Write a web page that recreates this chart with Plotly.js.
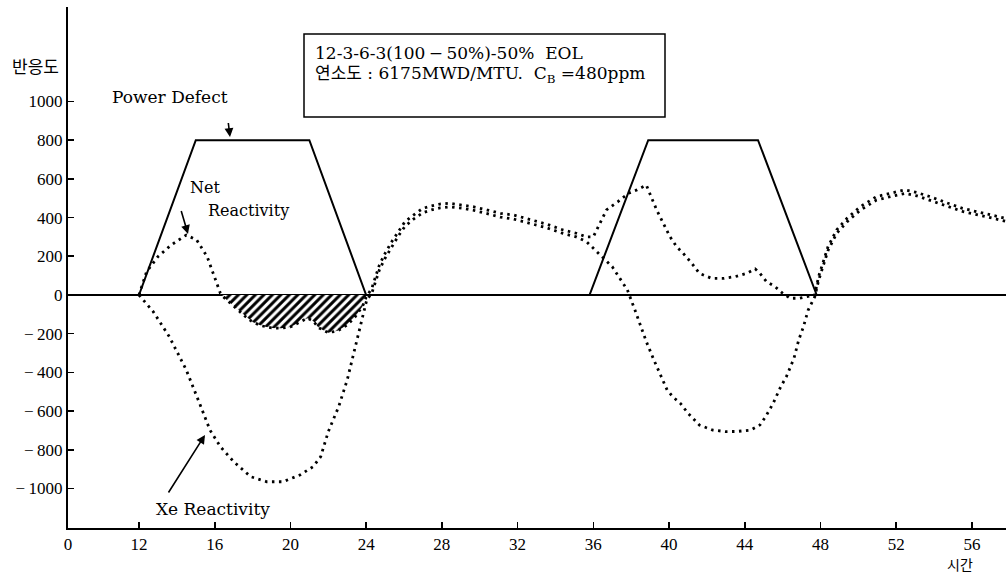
<!DOCTYPE html>
<html><head><meta charset="utf-8">
<script src="https://cdn.plot.ly/plotly-3.0.1.min.js"></script>
<style>html,body{margin:0;padding:0;background:#fff}#chart{width:1006px;height:573px}</style>
</head><body><div id="chart"></div>
<script>
// ---- data (hours, reactivity) ----
const pdHours  = [12, 15, 21, 24, 35.8, 38.9, 44.7, 47.8];
const pdValues = [0, 800, 800, 0, 0, 800, 800, 0];

const netHours = [12, 12.4, 13.0, 13.7, 14.5, 15.05, 15.6, 16.0, 16.3, 16.45, 16.8, 17.2, 17.6, 18.0, 18.5, 19.0, 19.5, 20.0, 20.5, 20.9, 21.2, 21.5, 22.0, 22.5, 23.0, 23.4, 23.8, 24.0,
  24.3, 24.5, 24.7, 25.0, 25.35, 25.7, 26.05, 26.5, 27.0, 27.45, 27.9, 28.4, 29.1, 29.65, 30.4, 31.1, 31.8, 32.65, 33.5, 34.4, 35.1, 35.65, 36.0,
  36.35, 36.7, 37.3, 37.85, 38.3, 38.8, 39.0, 39.35, 39.7, 40.05, 40.4, 40.75, 41.2, 41.6, 42.25, 42.9, 43.5, 44.1, 44.55, 44.8, 45.15, 45.6, 46.0, 46.4, 46.9, 47.35, 47.7,
  47.9, 48.1, 48.4, 48.85, 49.4, 50.1, 50.95, 51.85, 52.45, 53.1, 53.8, 54.65, 55.5, 56.4, 57.3, 57.8];
const netValues = [0, 120, 198, 258, 310, 284, 198, 95, 9, -9, -40, -75, -110, -140, -160, -170, -172, -165, -140, -120, -135, -170, -195, -185, -155, -115, -60, -12,
  35, 95, 155, 215, 275, 327, 379, 413, 448, 460, 470, 474, 465, 456, 439, 422, 413, 391, 367, 336, 319, 300, 300,
  370, 440, 482, 525, 543, 568, 520, 439, 370, 301, 250, 215, 164, 112, 86, 86, 95, 112, 135, 112, 69, 43, 9, -17, -17, -9, 0,
  95, 155, 250, 336, 396, 456, 508, 529, 543, 529, 508, 477, 448, 427, 408, 396];

const xeHours = [12, 12.75, 13.6, 14.5, 15.2, 15.75, 16.3, 17.0, 17.9, 18.75, 19.6, 20.5, 21.2, 21.6, 22.0, 22.55, 23.0, 23.3, 23.7, 23.85, 24.03,
  24.3, 24.5, 24.7, 25.0, 25.35, 25.7, 26.05, 26.5, 27.0, 27.45, 27.9, 28.4, 29.1, 29.65, 30.4, 31.1, 31.8, 32.65, 33.5, 34.4, 35.1, 35.65, 36.0,
  36.5, 37.0, 37.4, 37.8, 38.2, 38.5, 38.8, 39.2, 39.5, 39.9, 40.2, 40.6, 41.0, 41.6, 42.3, 43.0, 43.6, 44.3, 44.8, 45.1, 45.5, 45.9, 46.2, 46.6, 46.85, 47.1, 47.35, 47.7,
  47.9, 48.1, 48.4, 48.85, 49.4, 50.1, 50.95, 51.85, 52.45, 53.1, 53.8, 54.65, 55.5, 56.4, 57.3, 57.8];
const xeValues = [0, -86, -215, -388, -560, -698, -784, -861, -939, -965, -965, -930, -887, -835, -706, -577, -439, -319, -172, -112, -26,
  10, 70, 130, 190, 250, 305, 355, 392, 425, 440, 450, 455, 448, 438, 420, 402, 392, 372, 348, 318, 300, 275, 241,
  190, 146, 86, 26, -78, -164, -241, -336, -405, -491, -526, -560, -611, -672, -698, -706, -705, -698, -672, -629, -560, -474, -422, -327, -233, -164, -78, -9,
  75, 135, 230, 318, 378, 438, 490, 512, 525, 512, 490, 460, 432, 410, 392, 380];

const xTickVals = [8.25, 12, 16, 20, 24, 28, 32, 36, 40, 44, 48, 52, 56];
const xTickText = ['0', '12', '16', '20', '24', '28', '32', '36', '40', '44', '48', '52', '56'];
const yTickVals = [1000, 800, 600, 400, 200, 0, -200, -400, -600, -800, -1000];
const yTickText = ['1000', '800', '600', '400', '200', '0', '\u2212\u2009200', '\u2212\u2009400', '\u2212\u2009600', '\u2212\u2009800', '\u2212\u20091000'];

const boxLine1 = '12-3-6-3(100\u2009\u2212\u200950%)-50%  EOL';
const boxLine2 = '연소도 : 6175MWD/MTU.  C<sub>B</sub> =480ppm';

// ---- geometry helpers (pixel -> paper) ----
const L = 68, R = 1006, T = 7, B = 528;
const px = x => (x - L) / (R - L);
const py = y => (B - y) / (B - T);

// hatched negative part of net reactivity
const hatchX = [], hatchY = [];
netHours.forEach((h, i) => { if (h >= 16.3 && h <= 24.0) { hatchX.push(h); hatchY.push(netValues[i]); } });

const dotLine = {color: '#000', width: 2.8, dash: '2.5px,4.5px'};
const traces = [
  {x: hatchX, y: hatchY, mode: 'lines', line: {width: 0, color: '#000'}, fill: 'tozeroy',
   fillcolor: 'rgba(0,0,0,0)', fillpattern: {shape: '/', fgcolor: '#000', bgcolor: '#fff', size: 6, solidity: 0.5},
   hoverinfo: 'skip'},
  {x: pdHours, y: pdValues, mode: 'lines', line: {color: '#000', width: 2}},
  {x: xeHours, y: xeValues, mode: 'lines', line: dotLine},
  {x: netHours, y: netValues, mode: 'lines', line: dotLine}
];

const serif = 'DejaVu Serif, Noto Sans CJK KR, serif';
const tickFont = {family: 'Liberation Serif', size: 17, color: '#000'};
const txt = (s, x, y, size, extra) => Object.assign({text: s, xref: 'paper', yref: 'paper', x: px(x), y: py(y),
  xanchor: 'center', yanchor: 'middle',
  showarrow: false, font: {family: serif, size: size, color: '#000'}}, extra || {});
const arrow = (hx, hy, tx, ty) => ({text: ' ', xref: 'paper', yref: 'paper', x: px(hx), y: py(hy),
  ax: tx - hx, ay: ty - hy, showarrow: true, arrowhead: 2, arrowsize: 1.1, arrowwidth: 1.6, arrowcolor: '#000'});
const krFont = {family: 'Noto Sans CJK KR', size: 14, color: '#000'};

const layout = {
  width: 1006, height: 573,
  margin: {l: L, r: 1006 - R, t: T, b: 573 - B},
  paper_bgcolor: '#fff', plot_bgcolor: '#fff',
  font: tickFont,
  showlegend: false,
  xaxis: {range: [8.25, 57.8], tickvals: xTickVals, ticktext: xTickText, showgrid: false, zeroline: false,
    showline: true, linecolor: '#000', linewidth: 2, ticks: 'inside', ticklen: 6, tickwidth: 1.6, tickcolor: '#000',
    tickfont: tickFont, ticklabelstandoff: 0},
  yaxis: {range: [-1204, 1488], tickvals: yTickVals, ticktext: yTickText, showgrid: false,
    zeroline: true, zerolinecolor: '#000', zerolinewidth: 2,
    showline: true, linecolor: '#000', linewidth: 2, ticks: 'inside', ticklen: 6, tickwidth: 1.6, tickcolor: '#000',
    tickfont: tickFont},
  shapes: [
    {type: 'rect', xref: 'paper', yref: 'paper', x0: px(304), x1: px(665), y0: py(117), y1: py(34),
     line: {color: '#000', width: 1.5}, fillcolor: 'rgba(0,0,0,0)'}
  ],
  annotations: [
    txt(boxLine1, 313, 53, 17, {xanchor: 'left'}),
    txt(boxLine2, 313, 74, 17, {xanchor: 'left'}),
    txt('Power Defect', 170, 97, 17),
    txt('Net', 205, 187, 16),
    txt('Reactivity', 248, 210, 16),
    txt('Xe Reactivity', 213, 509, 17),
    txt('반응도', 35, 65, 17, {font: Object.assign({}, krFont, {size: 17})}),
    txt('시간', 960, 564, 14, {font: krFont, borderpad: 0}),
    arrow(230, 137, 227, 112),
    arrow(188, 234, 178, 200),
    arrow(205, 435, 165, 498)
  ]
};

Plotly.newPlot('chart', traces, layout, {staticPlot: true, displayModeBar: false});
</script>
</body></html>
